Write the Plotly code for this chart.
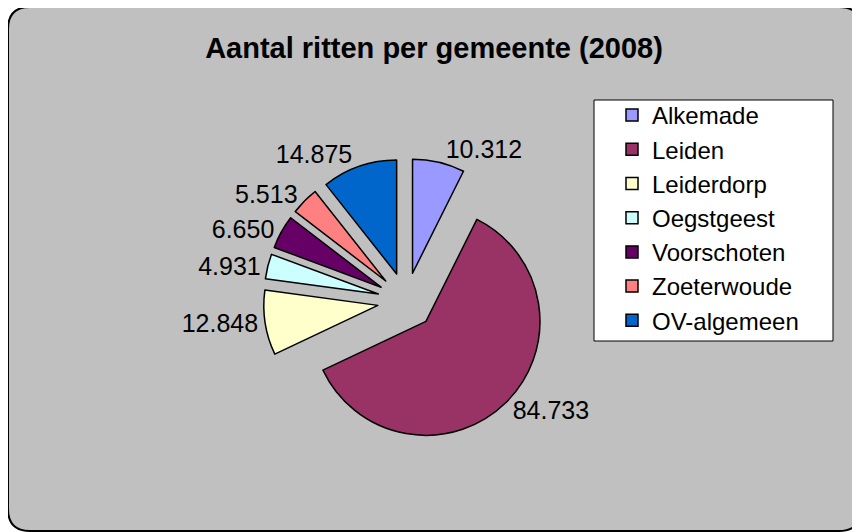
import plotly.graph_objects as go

# data
gemeenten = ["Alkemade", "Leiden", "Leiderdorp", "Oegstgeest",
             "Voorschoten", "Zoeterwoude", "OV-algemeen"]
ritten = [10312, 84733, 12848, 4931, 6650, 5513, 14875]
kleuren = ["#9999FF", "#993366", "#FFFFCC", "#CCFFFF",
           "#660066", "#FF8080", "#0066CC"]

W, H = 860, 532
OFF = 8  # the page body adds an 8px margin, so work in screen pixels minus that


def px(x, y):
    # screen pixel -> paper coordinates (margins are 0)
    return (x - OFF) / W, 1 - (y - OFF) / H


def rounded_rect(x0, y0, x1, y1, r):
    # path for a rounded rectangle, given in screen pixels
    def p(x, y):
        a, b = px(x, y)
        return f"{a:.5f},{b:.5f}"
    pts = ["M" + p(x0 + r, y0),
           "L" + p(x1 - r, y0),
           "Q" + p(x1, y0) + " " + p(x1, y0 + r),
           "L" + p(x1, y1 - r),
           "Q" + p(x1, y1) + " " + p(x1 - r, y1),
           "L" + p(x0 + r, y1),
           "Q" + p(x0, y1) + " " + p(x0, y1 - r),
           "L" + p(x0, y0 + r),
           "Q" + p(x0, y0) + " " + p(x0 + r, y0)]
    return " ".join(pts) + " Z"


# pie: centre (406, 301), radius 114 and pull 0.25 -> square domain of 285px
cx, cy, half = 406, 301, 142.5
dx0, dy0 = px(cx - half, cy + half)
dx1, dy1 = px(cx + half, cy - half)

pie = go.Pie(
    labels=gemeenten,
    values=ritten,
    sort=False,
    direction="clockwise",
    rotation=0,
    pull=[0.25] * len(ritten),
    marker=dict(colors=kleuren, line=dict(color="black", width=1.5)),
    textposition="outside",
    texttemplate="%{value:,}",
    textfont=dict(size=25, color="black"),
    hoverinfo="label+value",
    domain=dict(x=[dx0, dx1], y=[dy0, dy1]),
)

fig = go.Figure(data=[pie])

lx0, ly0 = px(594, 100)
lx1, ly1 = px(833, 341)
legx, legy = px(600, 93)
tx, ty = px(434, 48)

fig.update_layout(
    width=W, height=H,
    margin=dict(l=0, r=0, t=0, b=0),
    paper_bgcolor="white",
    plot_bgcolor="white",
    separators=",.",
    font=dict(family="Liberation Sans, Arial, sans-serif", color="black"),
    title=dict(text="<b>Aantal ritten per gemeente (2008)</b>",
               font=dict(size=29, color="black"),
               x=tx, y=ty, xanchor="center", yanchor="middle"),
    legend=dict(
        x=legx, y=legy, xanchor="left", yanchor="top",
        bgcolor="rgba(0,0,0,0)", borderwidth=0,
        font=dict(size=24, color="black"),
        indentation=12,
    ),
    shapes=[
        dict(type="path", xref="paper", yref="paper",
             path=rounded_rect(8, 7, 861, 531, 22),
             fillcolor="#C0C0C0", line=dict(color="black", width=2),
             layer="below"),
        # legend box
        dict(type="rect", xref="paper", yref="paper",
             x0=lx0, y0=ly0, x1=lx1, y1=ly1,
             fillcolor="white", line=dict(color="black", width=1),
             layer="below"),
    ],
)

fig.write_html("out.html")
